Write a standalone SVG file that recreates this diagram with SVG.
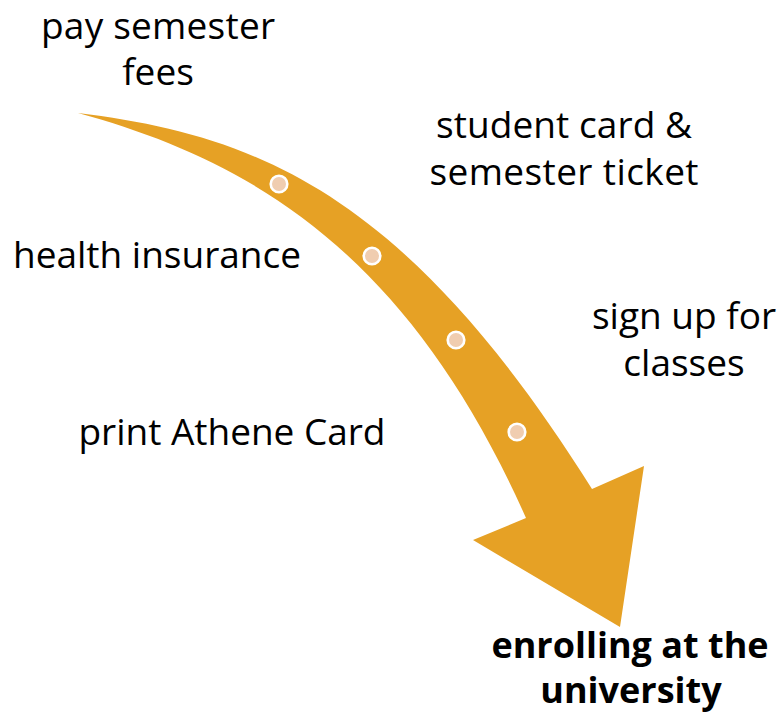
<svg xmlns="http://www.w3.org/2000/svg" width="782" height="713" viewBox="0 0 782 713">
<style>
text{font-family:"Open Sans","Noto Sans","Liberation Sans",sans-serif;font-size:37px;fill:#000;text-anchor:middle}
.b{font-weight:bold;font-size:36px}
.d{fill:#f0cdb0;stroke:#fff;stroke-width:2.600}
</style>
<g id="connectors"><path id="arrow" d="M78 113C258 135 407 194 592 489L644 466L620 627L473 540L526 518C408 252 250 160 78 113Z" fill="#e6a125"/></g>
<g id="n1"><circle class="d" cx="279" cy="184" r="8.300"/><text x="158" y="39" textLength="234">pay semester</text><text x="158" y="85">fees</text></g>
<g id="n2"><circle class="d" cx="372" cy="256" r="8.300"/><text x="564" y="138" textLength="256">student card &amp;</text><text x="564" y="185" textLength="269">semester ticket</text></g>
<g id="n3"><circle class="d" cx="456" cy="340" r="8.300"/><text x="157" y="268">health insurance</text></g>
<g id="n4"><circle class="d" cx="517" cy="432" r="8.300"/><text x="684" y="329">sign up for</text><text x="684" y="376">classes</text></g>
<g id="n5"><text x="232" y="445" textLength="307">print Athene Card</text></g>
<g id="n6"><text class="b" x="630" y="658">enrolling at the</text><text class="b" x="631" y="703">university</text></g>
</svg>
